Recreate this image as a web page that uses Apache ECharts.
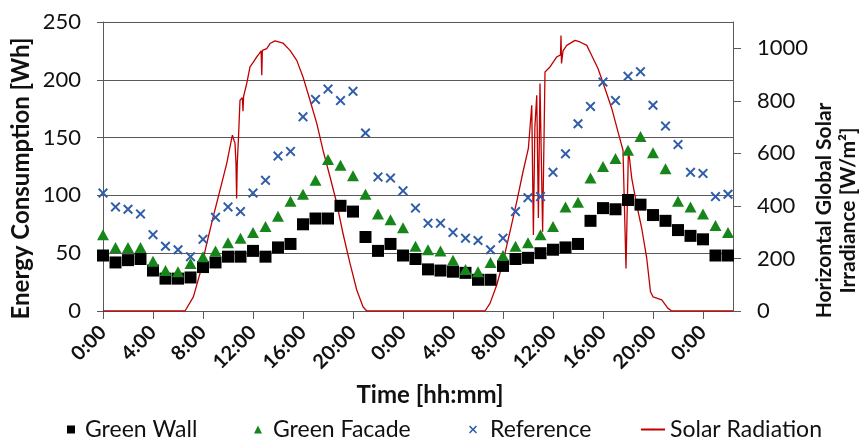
<!DOCTYPE html>
<html>
<head>
<meta charset="utf-8">
<script src="https://cdn.jsdelivr.net/npm/echarts@6.0.0/dist/echarts.min.js"></script>
<style>
  html, body { margin: 0; padding: 0; background: #fff; }
  #chart { width: 864px; height: 439px; }
</style>
</head>
<body>
<div id="chart"></div>
<script>
  // hourly samples, hour 0 .. 50
  const hours = [0, 1, 2, 3, 4, 5, 6, 7, 8, 9, 10, 11, 12, 13, 14, 15, 16, 17, 18, 19, 20, 21, 22, 23, 24,
    25, 26, 27, 28, 29, 30, 31, 32, 33, 34, 35, 36, 37, 38, 39, 40, 41, 42, 43, 44, 45, 46, 47, 48, 49, 50]

  const greenWall = [48, 42, 44, 45, 35, 28, 28, 29, 38, 42, 47, 47, 52, 47, 55, 58, 75, 80, 80, 91, 86, 64, 52, 58, 48,
    45, 36, 35, 34, 33, 27, 27, 39, 45, 46, 50, 53, 55, 58, 78, 89, 88, 96, 92, 83, 78, 70, 65, 62, 48, 48]

  const greenFacade = [66, 55, 55, 55, 43, 35, 34, 41, 47, 52, 59, 63, 68, 73, 82, 95, 101, 113, 131, 126, 117, 101, 84, 79, 72,
    56, 53, 52, 44, 36, 34, 42, 48, 56, 59, 66, 73, 90, 94, 115, 125, 132, 139, 151, 137, 123, 95, 90, 84, 74, 68]

  const reference = [102, 90, 88, 84, 66, 56, 53, 47, 62, 81, 90, 86, 102, 113, 134, 138, 168, 183, 192, 182, 190, 154, 116, 115, 104,
    89, 76, 76, 68, 63, 61, 53, 63, 86, 98, 99, 120, 136, 162, 177, 198, 182, 203, 207, 178, 160, 144, 120, 119, 99, 101]

  // solar radiation trace: [hour, W/m2]
  const solarTime = [0, 6.56, 7.23, 7.76, 8.3, 8.82, 9.36, 9.9, 10.16, 10.35, 10.56, 10.64, 10.69, 10.74, 10.83, 10.96,
    11.15, 11.2, 11.25, 11.5, 11.76, 12.0, 12.3, 12.5, 12.65, 12.7, 12.75, 13.1, 13.36, 13.76, 14.4, 14.96, 15.5,
    16.0, 16.56, 17.1, 17.6, 18.16, 18.7, 19.2, 19.76, 20.3, 20.8, 21.1,
    30.56, 30.96, 31.5, 32.0, 32.56, 33.1, 33.6, 34.03, 34.3, 34.43, 34.55, 34.7, 34.83, 34.96, 35.17, 35.36,
    35.76, 36.3, 36.6, 36.64, 36.68, 36.8, 37.1, 37.76, 38.16, 38.7, 38.96, 39.6, 40.16, 40.7, 41.2, 41.6,
    41.75, 41.84, 42.03, 42.1, 42.3, 42.7, 43.1, 43.5, 43.8, 44.0, 44.7, 45.2, 45.5, 50.4]
  const solarValue = [0, 0, 54, 143, 257, 359, 460, 562, 625, 669, 638, 560, 428, 560, 650, 802,
    812, 760, 818, 866, 929, 945, 967, 980, 990, 897, 992, 999, 1018, 1028, 1020, 992, 954,
    891, 802, 714, 612, 511, 410, 295, 181, 80, 16, 0,
    0, 29, 99, 187, 302, 416, 530, 619, 783, 289, 700, 821, 354, 866, 302, 910,
    929, 967, 975, 1049, 942, 990, 1011, 1030, 1024, 1011, 986, 923, 847, 771, 682, 612,
    605, 162, 606, 590, 505, 403, 314, 200, 73, 54, 42, 10, 0, 0]

  const xTicks = [0, 4, 8, 12, 16, 20, 24, 28, 32, 36, 40, 44, 48]
  const rightTicks = [0, 200, 400, 600, 800, 1000]

  const font = 'Lato'
  const axisColor = '#595959'
  const crossPath = 'path://M0,1.4L1.4,0L5,3.6L8.6,0L10,1.4L6.4,5L10,8.6L8.6,10L5,6.4L1.4,10L0,8.6L3.6,5Z'

  const chart = echarts.init(document.getElementById('chart'))

  const pairs = (ys) => hours.map((h, i) => [h, ys[i]])

  const legendText = (gap) => ({ fontFamily: font, fontSize: 23, color: '#111', padding: [0, 0, 0, gap] })

  chart.setOption({
    animation: false,
    textStyle: { fontFamily: font },
    grid: { left: 103, right: 131, top: 22, bottom: 128, outerBoundsMode: 'none', containLabel: false },
    legend: [
      { data: [{ name: 'Green Wall', icon: 'rect' }], left: 67, itemWidth: 8, itemHeight: 8, textStyle: legendText(5) },
      { data: [{ name: 'Green Facade', icon: 'triangle' }], left: 254, itemWidth: 8, itemHeight: 8, textStyle: legendText(6) },
      { data: [{ name: 'Reference', icon: crossPath }], left: 469, itemWidth: 8, itemHeight: 8, textStyle: legendText(8) },
      { data: ['Solar Radiation'], left: 640, itemWidth: 24, itemHeight: 2, textStyle: legendText(0) }
    ].map(l => Object.assign(l, { top: 418, padding: 0 })),
    xAxis: {
      type: 'value',
      min: 0,
      max: 50.4,
      interval: 4,
      name: 'Time [hh:mm]',
      nameLocation: 'middle',
      nameGap: 72,
      nameMoveOverlap: false,
      nameTextStyle: { fontFamily: font, fontSize: 24, fontWeight: 'bold', color: '#111', padding: [0, 0, 0, 24] },
      axisLine: { show: true, lineStyle: { color: axisColor, width: 1 } },
      axisTick: { show: true, length: 8, customValues: xTicks, lineStyle: { color: axisColor } },
      axisLabel: {
        rotate: 45,
        margin: 18,
        fontFamily: font,
        fontSize: 20,
        fontWeight: 'bold',
        color: '#111',
        formatter: v => (v % 4 === 0 ? (v % 24) + ':00' : '')
      },
      splitLine: { show: false }
    },
    yAxis: [
      {
        type: 'value',
        min: 0,
        max: 250,
        interval: 50,
        name: 'Energy Consumption [Wh]',
        nameLocation: 'middle',
        nameRotate: 90,
        nameGap: 70,
        nameMoveOverlap: false,
        nameTextStyle: { fontFamily: font, fontSize: 24, fontWeight: 'bold', color: '#111', padding: [0, 24, 0, 0] },
        axisLine: { show: true, lineStyle: { color: axisColor, width: 1 } },
        axisTick: { show: true, length: 6, lineStyle: { color: axisColor } },
        axisLabel: { margin: 22, fontFamily: font, fontSize: 22, color: '#111' },
        splitLine: { show: true, lineStyle: { color: axisColor, width: 1 } }
      },
      {
        type: 'value',
        min: 0,
        max: 1100,
        interval: 200,
        position: 'right',
        name: 'Horizontal Global Solar\nIrradiance [W/m²]',
        nameLocation: 'middle',
        nameRotate: 90,
        nameGap: 79,
        nameMoveOverlap: false,
        nameTextStyle: {
          fontFamily: font, fontSize: 21, fontWeight: 'bold', color: '#111',
          lineHeight: 24, padding: [0, 88, 0, 0]
        },
        axisLine: { show: true, lineStyle: { color: axisColor, width: 1 } },
        axisTick: { show: true, length: 8, customValues: rightTicks, lineStyle: { color: axisColor } },
        axisLabel: {
          margin: 24, fontFamily: font, fontSize: 22, color: '#111',
          formatter: v => (v % 200 === 0 ? String(v) : '')
        },
        splitLine: { show: false }
      }
    ],
    series: [
      {
        name: 'Solar Radiation',
        type: 'line',
        yAxisIndex: 1,
        symbol: 'none',
        data: solarTime.map((t, i) => [t, solarValue[i]]),
        lineStyle: { color: '#c00000', width: 1.3 },
        itemStyle: { color: '#c00000' },
        z: 3
      },
      {
        name: 'Green Wall',
        type: 'scatter',
        symbol: 'rect',
        symbolSize: 12,
        data: pairs(greenWall),
        itemStyle: { color: '#000', opacity: 1 },
        z: 4
      },
      {
        name: 'Green Facade',
        type: 'scatter',
        symbol: 'triangle',
        symbolSize: [12, 11],
        data: pairs(greenFacade),
        itemStyle: { color: '#17861a', opacity: 1 },
        z: 4
      },
      {
        name: 'Reference',
        type: 'scatter',
        symbol: crossPath,
        symbolSize: 10,
        data: pairs(reference),
        itemStyle: { color: '#2f5da8', opacity: 1 },
        z: 4
      }
    ]
  })
</script>
</body>
</html>
